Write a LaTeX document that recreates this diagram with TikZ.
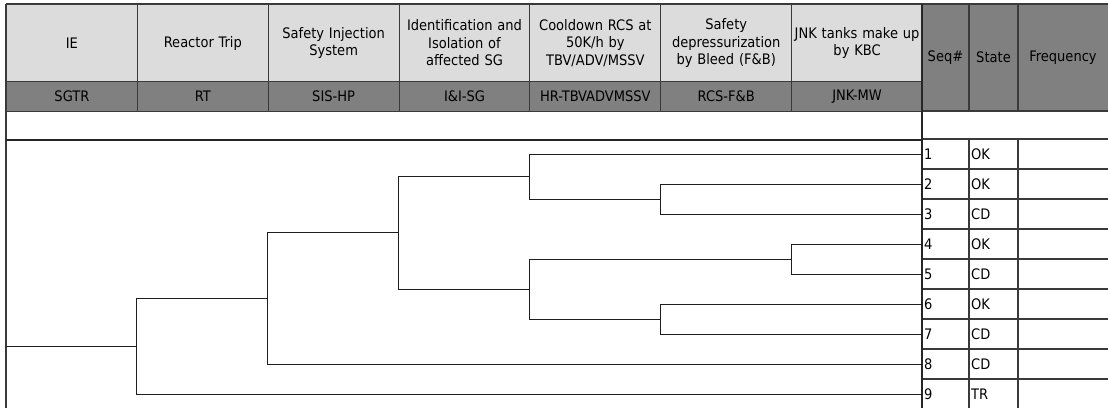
\documentclass[tikz,border=0pt]{standalone}
\usepackage{fontspec}
\setmainfont{DejaVu Sans Condensed}
\definecolor{hdrlight}{HTML}{DCDCDC}
\definecolor{hdrdark}{HTML}{808080}
\definecolor{gridline}{HTML}{3A3A3A}
\definecolor{treeline}{HTML}{1E1E1E}
\begin{document}
\begin{tikzpicture}[x=1pt,y=-1pt,
  every node/.style={font=\fontsize{14.5}{17.5}\selectfont, inner sep=0pt},
  topcell/.style={fill=hdrlight, draw=gridline, line width=1pt, anchor=north west,
    minimum width=130.86pt, minimum height=77pt, text width=130pt, align=center},
  codecell/.style={fill=hdrdark, draw=gridline, line width=1pt, anchor=north west,
    minimum width=130.86pt, minimum height=30pt, text width=130pt, align=center},
  grid/.style={draw=gridline, line width=1.1pt},
  heavy/.style={draw=black!85, line width=2.2pt},
  branch/.style={draw=treeline, line width=1pt},
  rowtext/.style={anchor=west}]

% page and background
\useasboundingbox (0,0) rectangle (1108,408);
\fill[white] (0,0) rectangle (1108,408);

% function event headings
\node[topcell] (ie)  at (6,4)      {IE};
\node[topcell] (rt)  at (136.86,4) {Reactor Trip};
\node[topcell] (sis) at (267.71,4) {Safety Injection\\System};
\node[topcell] (iis) at (398.57,4) {Identification and\\Isolation of\\affected SG};
\node[topcell] (cd)  at (529.43,4) {Cooldown RCS at\\50K/h by\\TBV/ADV/MSSV};
\node[topcell] (fb)  at (660.29,4) {Safety\\depressurization\\by Bleed (F\&B)};
\node[topcell] (jnk) at (791.14,4) {JNK tanks make up\\by KBC};

% event codes
\node[codecell] (sgtr)  at (6,81)      {SGTR};
\node[codecell] (rtc)   at (136.86,81) {RT};
\node[codecell] (sishp) at (267.71,81) {SIS-HP};
\node[codecell] (iisg)  at (398.57,81) {I\&I-SG};
\node[codecell] (hrt)   at (529.43,81) {HR-TBVADVMSSV};
\node[codecell] (rcsfb) at (660.29,81) {RCS-F\&B};
\node[codecell] (jnkmw) at (791.14,81) {JNK-MW};

% sequence table heading
\fill[hdrdark] (922,4) rectangle (1108,111);
\node (seqh)   at (945.5,57.5)  {Seq\#};
\node (stateh) at (993.5,57.5)  {State};
\node (freqh)  at (1063,57.5)   {Frequency};

% frame and rules
\draw[grid] (6,4) -- (1108,4);
\draw[grid] (6,4) -- (6,408);
\draw[grid] (922,111) -- (1108,111);
\draw[grid] (969,4) -- (969,111);
\draw[grid] (1018,4) -- (1018,111);
\draw[grid] (969,139) -- (969,408);
\draw[grid] (1018,139) -- (1018,408);
\foreach \k in {0,...,8} \draw[grid] (922,139+30*\k) -- (1108,139+30*\k);
\draw[heavy] (6,140) -- (922,140);
\draw[heavy] (922,4) -- (922,408);

% sequence end points, numbers and states
\foreach \k/\st in {1/OK,2/OK,3/CD,4/OK,5/CD,6/OK,7/CD,8/CD,9/TR} {
  \coordinate (q\k) at (922,124+30*\k);
  \node[rowtext] (n\k) at (924,124.5+30*\k) {\k};
  \node[rowtext] (s\k) at (971,124.5+30*\k) {\st};
}

% branch points of the event tree
\coordinate (start) at (6,346.2);
\coordinate (a) at (136.86,346.2);
\coordinate (b) at (267.71,298.4);
\coordinate (c) at (398.57,232.75);
\coordinate (d) at (529.43,176.5);
\coordinate (f) at (529.43,289);
\coordinate (g) at (660.29,199);
\coordinate (h) at (791.14,259);
\coordinate (i) at (660.29,319);

\draw[branch] (start) -- (a);
\draw[branch] (a) |- (b);
\draw[branch] (a) |- (q9);
\draw[branch] (b) |- (c);
\draw[branch] (b) |- (q8);
\draw[branch] (c) |- (d);
\draw[branch] (c) |- (f);
\draw[branch] (d) |- (q1);
\draw[branch] (d) |- (g);
\draw[branch] (g) |- (q2);
\draw[branch] (g) |- (q3);
\draw[branch] (f) |- (h);
\draw[branch] (f) |- (i);
\draw[branch] (h) |- (q4);
\draw[branch] (h) |- (q5);
\draw[branch] (i) |- (q6);
\draw[branch] (i) |- (q7);
\end{tikzpicture}
\end{document}
